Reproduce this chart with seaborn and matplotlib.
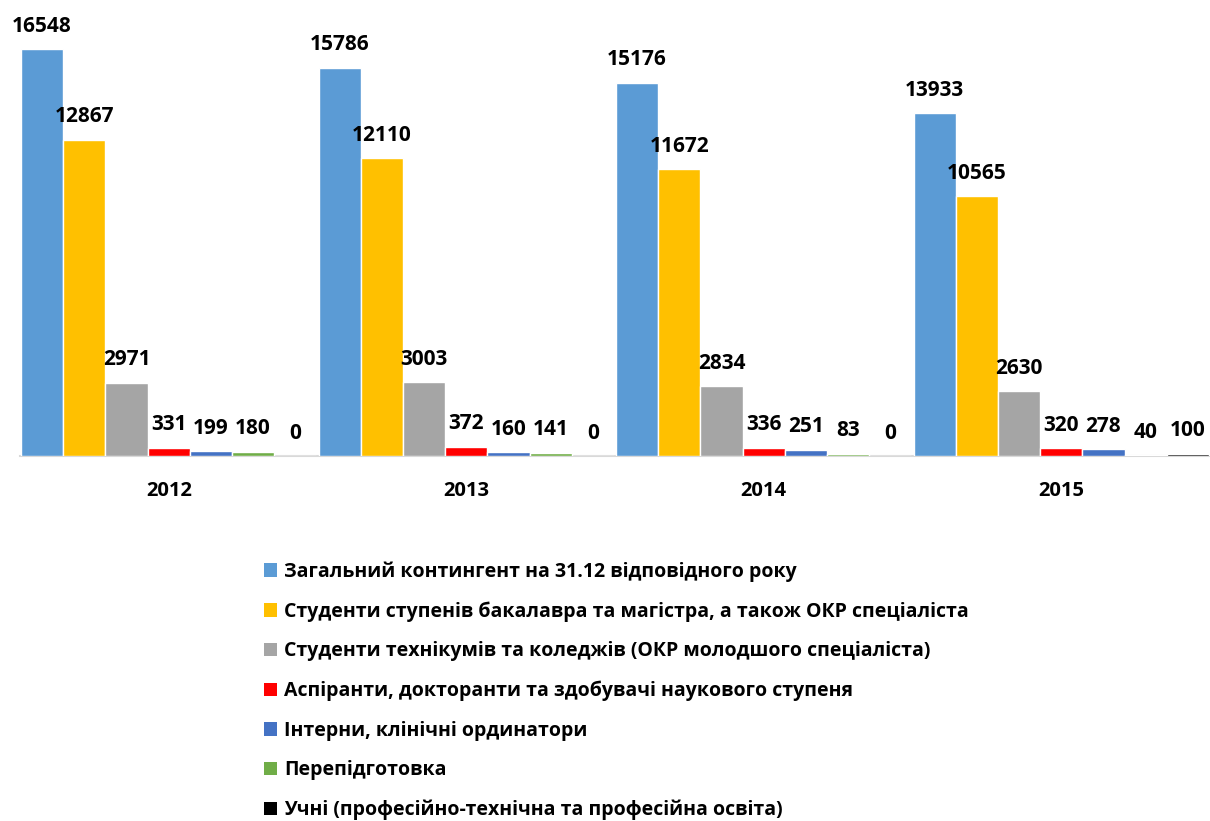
import pandas as pd
import seaborn as sns
import matplotlib.pyplot as plt
from matplotlib.patches import Patch

# data
years = ["2012", "2013", "2014", "2015"]
series = [
    "Загальний контингент на 31.12 відповідного року",
    "Студенти ступенів бакалавра та магістра, а також ОКР спеціаліста",
    "Студенти технікумів та коледжів (ОКР молодшого спеціаліста)",
    "Аспіранти, докторанти та здобувачі наукового ступеня",
    "Інтерни, клінічні ординатори",
    "Перепідготовка",
    "Учні (професійно-технічна та професійна освіта)",
]
total = [16548, 15786, 15176, 13933]
bachelors = [12867, 12110, 11672, 10565]
colleges = [2971, 3003, 2834, 2630]
postgrads = [331, 372, 336, 320]
interns = [199, 160, 251, 278]
retraining = [180, 141, 83, 40]
vocational = [0, 0, 0, 100]

colors = ["#5B9BD5", "#FFC000", "#A5A5A5", "#FF0000", "#4472C4", "#70AD47", "#000000"]

values = [total, bachelors, colleges, postgrads, interns, retraining, vocational]
rows = []
for name, vals in zip(series, values):
    for yr, v in zip(years, vals):
        rows.append({"year": yr, "series": name, "value": v})
df = pd.DataFrame(rows)

sns.set_style("white")
plt.rcParams["font.family"] = ["Open Sans", "DejaVu Sans"]
plt.rcParams["text.color"] = "black"
plt.rcParams["xtick.color"] = "black"

fig = plt.figure(figsize=(12.1, 8.21), dpi=100)
ax = fig.add_axes([20 / 1210, (821 - 456) / 821, 1190 / 1210, 0.539])

sns.barplot(data=df, x="year", y="value", hue="series", hue_order=series,
            palette=colors, width=0.993, gap=0, ax=ax, legend=False,
            saturation=1, errorbar=None, zorder=3)

for cont in ax.containers:
    ax.bar_label(cont, fmt="%d", padding=9, fontsize=15, fontweight="bold", color="black")

ax.set_xlim(-0.5, 3.5)
ax.set_ylim(0, 18000)
ax.set_xlabel("")
ax.set_ylabel("")
ax.set_yticks([])
ax.tick_params(axis="x", length=0, pad=18, labelsize=14.5, labelcolor="black")
for lab in ax.get_xticklabels():
    lab.set_fontweight("bold")
for s in ["top", "left", "right"]:
    ax.spines[s].set_visible(False)
ax.spines["bottom"].set_color("#D9D9D9")
ax.spines["bottom"].set_linewidth(1.5)
ax.spines["bottom"].set_zorder(1)

handles = [Patch(facecolor=c, edgecolor="none") for c in colors]
leg = fig.legend(handles, series, loc="upper left", bbox_to_anchor=(246 / 1210, 1 - 544 / 821),
                 frameon=False, handlelength=0.7, handleheight=0.7, handletextpad=0.35,
                 labelspacing=1.0, prop={"size": 14, "weight": "bold"})
for t in leg.get_texts():
    t.set_color("black")

fig.savefig("out.png", dpi=100, facecolor="white")
